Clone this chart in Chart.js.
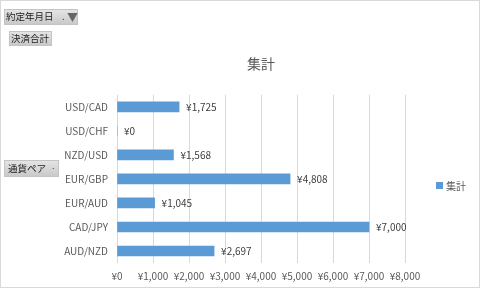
<!DOCTYPE html>
<html><head><meta charset="utf-8">
<script src="https://cdn.jsdelivr.net/npm/chart.js@4/dist/chart.umd.min.js"></script>
<style>
html,body{margin:0;padding:0;background:#fff;}
#wrap{position:relative;width:480px;height:289px;overflow:hidden;}
#frame{position:absolute;left:0;top:0;width:478px;height:286px;border:1px solid #d9d9d9;pointer-events:none;}
canvas{position:absolute;left:0;top:0;}
.btn{position:absolute;font-family:"Noto Sans CJK JP",sans-serif;font-size:9.5px;color:#222;
 background:linear-gradient(#e4e4e4,#c9c9c9);border:1px solid #c4c4c4;box-sizing:border-box;
 line-height:13px;padding:0 1px;white-space:nowrap;}
#legend{position:absolute;left:436px;top:178px;font-family:"Noto Sans CJK JP",sans-serif;font-size:10px;color:#595959;display:flex;align-items:center;}
#legend span.box{display:inline-block;width:7px;height:7px;margin-right:3px;}
</style></head>
<body><div id="wrap">
<canvas id="c" width="480" height="289"></canvas>
<div class="btn" style="left:4px;top:9px;width:74px;height:16px;">約定年月日<span style="position:absolute;left:57px;top:0;">.</span><span style="position:absolute;left:62px;top:1px;font-size:11px;color:#666;">▼</span></div>
<div class="btn" style="left:9px;top:31px;width:43px;height:15px;">決済合計</div>
<div class="btn" style="left:4px;top:160px;width:55px;height:17px;line-height:15px;padding-left:3px;">通貨ペア<span style="position:absolute;left:46px;top:-1px;font-size:8px;">·</span></div>
<div id="legend"></div>
<div id="frame"></div>
</div>
<script>
const categories = ["USD/CAD","USD/CHF","NZD/USD","EUR/GBP","EUR/AUD","CAD/JPY","AUD/NZD"];
const values = [1725, 0, 1568, 4808, 1045, 7000, 2697];
const seriesName = "集計";
const xTickMin = 0, xTickMax = 8000, xTickStep = 1000;

const yen = v => '¥' + Number(v).toLocaleString('en-US');
const FONT = '"Noto Sans CJK JP", sans-serif';

const labelPlugin = {
  id: 'valueLabels',
  afterDatasetsDraw(chart) {
    const ctx = chart.ctx;
    const meta = chart.getDatasetMeta(0);
    ctx.save();
    ctx.font = '10px ' + FONT;
    ctx.fillStyle = '#404040';
    ctx.textBaseline = 'middle';
    ctx.textAlign = 'left';
    meta.data.forEach((el, i) => {
      ctx.fillText(yen(chart.data.datasets[0].data[i]), el.x + 7, el.y);
    });
    ctx.restore();
  }
};

const chart = new Chart(document.getElementById('c'), {
  type: 'bar',
  data: { labels: categories, datasets: [{ label: seriesName, data: values, backgroundColor: '#5B9BD5', barThickness: 10 }] },
  options: {
    indexAxis: 'y', responsive: false, animation: false, devicePixelRatio: 1,
    layout: { padding: { left: 0, right: 75, top: 0, bottom: 0 } },
    plugins: {
      legend: { display: false },
      tooltip: { enabled: false },
      title: { display: true, text: seriesName, fullSize: false, color: '#595959',
        font: { family: FONT, size: 14, weight: 'normal' }, padding: { top: 55, bottom: 23 } }
    },
    scales: {
      x: { min: xTickMin, max: xTickMax,
        ticks: { stepSize: xTickStep, callback: v => yen(v), color: '#595959', font: { family: FONT, size: 10 }, padding: 7, maxRotation: 0, autoSkip: false },
        grid: { color: '#d9d9d9', drawTicks: false },
        border: { display: false },
        afterFit(s) { s.height = 26; } },
      y: { ticks: { color: '#595959', font: { family: FONT, size: 10 }, padding: 9 },
        grid: { display: false, drawTicks: false },
        border: { display: false },
        afterFit(s) { s.width = 117; } }
    }
  },
  plugins: [labelPlugin]
});

const lg = document.getElementById('legend');
chart.data.datasets.forEach(ds => {
  const b = document.createElement('span'); b.className = 'box'; b.style.background = ds.backgroundColor;
  const t = document.createElement('span'); t.textContent = ds.label;
  lg.appendChild(b); lg.appendChild(t);
});
</script>
</body></html>
